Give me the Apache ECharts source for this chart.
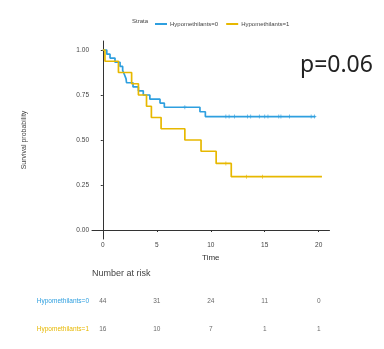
<!DOCTYPE html>
<html><head><meta charset="utf-8">
<script src="https://cdn.jsdelivr.net/npm/echarts@6/dist/echarts.min.js"></script>
<style>html,body{margin:0;padding:0;background:#fff}#c{width:384px;height:349px}</style>
</head><body><div id="c"></div>
<script>
const strataNames = ['Hypomethilants=0', 'Hypomethilants=1'];
const blueTimes = [0, 0.37, 0.67, 1.13, 1.6, 1.84, 2.0, 2.15, 2.2, 2.8, 3.3, 3.75, 4.36, 5.3, 5.7, 9.0, 9.5, 19.7];
const blueSurv  = [1, 0.977, 0.955, 0.932, 0.909, 0.886, 0.864, 0.841, 0.818, 0.795, 0.773, 0.75, 0.727, 0.705, 0.682, 0.657, 0.63, 0.63];
const blueCensorTimes = [7.6, 11.4, 11.7, 12.2, 13.4, 13.7, 14.5, 15.0, 15.3, 16.3, 16.5, 17.3, 19.3, 19.6];
const blueCensorSurv  = [0.682, 0.63, 0.63, 0.63, 0.63, 0.63, 0.63, 0.63, 0.63, 0.63, 0.63, 0.63, 0.63, 0.63];
const yellowTimes = [0, 0.2, 1.45, 2.67, 3.3, 4.05, 4.5, 5.4, 7.6, 9.1, 10.5, 11.9, 20.3];
const yellowSurv  = [1, 0.9375, 0.875, 0.8125, 0.75, 0.6875, 0.625, 0.5625, 0.5, 0.4375, 0.37, 0.296, 0.296];
const yellowCensorTimes = [11.4, 13.3, 14.8];
const yellowCensorSurv  = [0.37, 0.296, 0.296];
const xTicks = [0, 5, 10, 15, 20];
const yTicks = [0, 0.25, 0.5, 0.75, 1];
const riskTimes = [0, 5, 10, 15, 20];
const risk0 = [44, 31, 24, 11, 0];
const risk1 = [16, 10, 7, 1, 1];
const pText = 'p=0.06';

const BLUE = '#2E9FDF', YELLOW = '#E7B800';
const zip = (a, b) => a.map((v, i) => [v, b[i]]);
const plus = 'path://M4,0h2v4h4v2h-4v4h-2v-4h-4v-2h4z';
const tickFont = { fontSize: 6.5, color: '#444', fontFamily: 'Liberation Sans' };

const chart = echarts.init(document.getElementById('c'), null, { renderer: 'canvas' });
chart.setOption({
  animation: false,
  backgroundColor: '#fff',
  textStyle: { fontFamily: 'Liberation Sans' },
  legend: {
    left: 150, top: 16, itemWidth: 12, itemHeight: 2, itemGap: 8, icon: 'rect',
    data: strataNames,
    textStyle: { fontSize: 6, color: '#444', padding: [0, 0, 0, -2] }
  },
  grid: [
    { left: 92, top: 41, width: 237.5, height: 198 },
    { left: 92, top: 288, width: 237.5, height: 54.6 }
  ],
  xAxis: [
    {
      gridIndex: 0, type: 'value', min: -1, max: 21,
      name: 'Time', nameLocation: 'middle', nameGap: 13,
      nameTextStyle: { fontSize: 8, color: '#333' },
      axisLine: { show: true, lineStyle: { color: '#333', width: 1 } },
      axisTick: { show: true, length: 2, customValues: xTicks, lineStyle: { color: '#333' } },
      axisLabel: { customValues: xTicks, margin: 3, ...tickFont },
      splitLine: { show: false }
    },
    {
      gridIndex: 1, type: 'value', min: -1, max: 21, show: false
    }
  ],
  yAxis: [
    {
      gridIndex: 0, type: 'value', min: -0.05, max: 1.05,
      name: 'Survival probability', nameLocation: 'middle', nameGap: 64,
      nameTextStyle: { fontSize: 7, color: '#444' },
      axisLine: { show: true, lineStyle: { color: '#333', width: 1 } },
      axisTick: { show: true, length: 2, customValues: yTicks, lineStyle: { color: '#333' } },
      axisLabel: { customValues: yTicks, margin: 3, formatter: v => v.toFixed(2), ...tickFont },
      splitLine: { show: false }
    },
    {
      gridIndex: 1, type: 'category', inverse: true,
      data: [
        { value: strataNames[0], textStyle: { color: BLUE } },
        { value: strataNames[1], textStyle: { color: YELLOW } }
      ],
      axisLine: { show: false }, axisTick: { show: false },
      axisLabel: { margin: 3, fontSize: 6.5 },
      splitLine: { show: false }
    }
  ],
  series: [
    {
      name: strataNames[0], type: 'line', step: 'end', xAxisIndex: 0, yAxisIndex: 0,
      data: zip(blueTimes, blueSurv), symbol: 'none', color: BLUE,
      lineStyle: { color: BLUE, width: 1.7 }
    },
    {
      name: strataNames[1], type: 'line', step: 'end', xAxisIndex: 0, yAxisIndex: 0,
      data: zip(yellowTimes, yellowSurv), symbol: 'none', color: YELLOW,
      lineStyle: { color: YELLOW, width: 1.7 }
    },
    {
      type: 'scatter', xAxisIndex: 0, yAxisIndex: 0, symbol: plus, symbolSize: 4,
      data: zip(blueCensorTimes, blueCensorSurv), itemStyle: { color: BLUE }
    },
    {
      type: 'scatter', xAxisIndex: 0, yAxisIndex: 0, symbol: plus, symbolSize: 4,
      data: zip(yellowCensorTimes, yellowCensorSurv), itemStyle: { color: YELLOW }
    },
    {
      type: 'scatter', xAxisIndex: 1, yAxisIndex: 1, symbolSize: 0,
      data: riskTimes.map((t, i) => [t, strataNames[0], risk0[i]]),
      label: { show: true, position: 'inside', formatter: p => p.value[2], fontSize: 6.5, color: '#444' }
    },
    {
      type: 'scatter', xAxisIndex: 1, yAxisIndex: 1, symbolSize: 0,
      data: riskTimes.map((t, i) => [t, strataNames[1], risk1[i]]),
      label: { show: true, position: 'inside', formatter: p => p.value[2], fontSize: 6.5, color: '#444' }
    }
  ],
  graphic: [
    { type: 'text', left: 132, top: 18, style: { text: 'Strata', fontSize: 6, fill: '#444', fontFamily: 'Liberation Sans' } },
    { type: 'text', left: 300, top: 54, style: { text: pText, fontSize: 23, fill: '#222', fontFamily: 'Noto Sans' } },
    { type: 'text', left: 92, top: 269, style: { text: 'Number at risk', fontSize: 9, fill: '#444', fontFamily: 'Liberation Sans' } }
  ]
});
</script></body></html>
